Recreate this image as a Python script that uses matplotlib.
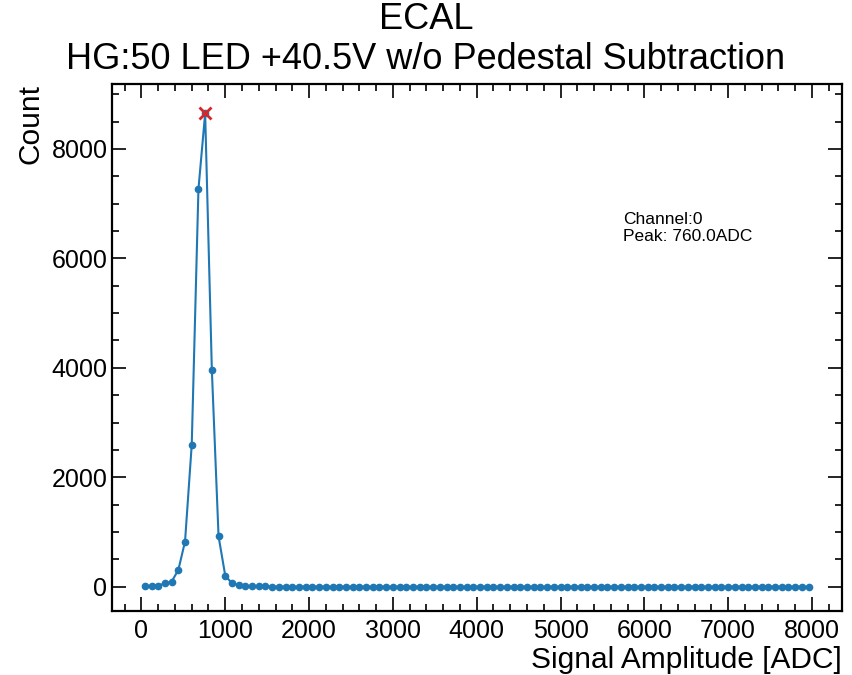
import matplotlib
matplotlib.use("Agg")
import matplotlib.pyplot as plt
from matplotlib.ticker import MultipleLocator

# data
BIN_CENTERS = [40 + 80 * i for i in range(100)]
COUNTS_PEAK = [5, 20, 20, 60, 92, 305, 825, 2595, 7265, 8650,
               3960, 920, 200, 62, 30, 18, 8, 5, 3, 2]
COUNTS_TAIL = [0] * 80
COUNTS = COUNTS_PEAK + COUNTS_TAIL
PEAK_X = 760.0
PEAK_Y = 8650
CHANNEL = 0
TITLE = "ECAL\nHG:50 LED +40.5V w/o Pedestal Subtraction"

plt.rcParams['font.family'] = ['Liberation Sans', 'DejaVu Sans']


def main():
    fig = plt.figure(figsize=(8.52, 6.75), dpi=100)
    ax = fig.add_axes([0.131, 0.0953, 0.857, 0.7803])

    ax.plot(BIN_CENTERS, COUNTS, "o-", color="#1f77b4", lw=1.5, ms=4.5)
    ax.plot(PEAK_X, PEAK_Y, "x", color="#d62728", ms=9, mew=2)

    ax.set_ylim(-439, 9188)
    ax.xaxis.set_major_locator(MultipleLocator(1000))
    ax.xaxis.set_minor_locator(MultipleLocator(200))
    ax.yaxis.set_major_locator(MultipleLocator(2000))
    ax.yaxis.set_minor_locator(MultipleLocator(500))
    ax.tick_params(which="both", direction="in", top=True, right=True,
                   labelsize=18, width=1.2)
    ax.tick_params(which="major", length=10)
    ax.tick_params(which="minor", length=5)
    ax.tick_params(axis="x", which="major", pad=6)
    ax.tick_params(axis="y", which="major", pad=3)
    for s in ax.spines.values():
        s.set_linewidth(1.6)

    ax.set_xlabel("Signal Amplitude [ADC]", fontsize=21.5, loc="right",
                  labelpad=2)
    ax.set_ylabel("Count", fontsize=21.5, loc="top", labelpad=5)

    ax.text(0.70, 0.757, "Channel:%d\nPeak: %.1fADC" % (CHANNEL, PEAK_X),
            transform=ax.transAxes, fontsize=12.5, va="top", ha="left")

    fig.suptitle(TITLE, fontsize=26, y=0.997, linespacing=1.17)
    fig.savefig("out.png", dpi=100)


main()
